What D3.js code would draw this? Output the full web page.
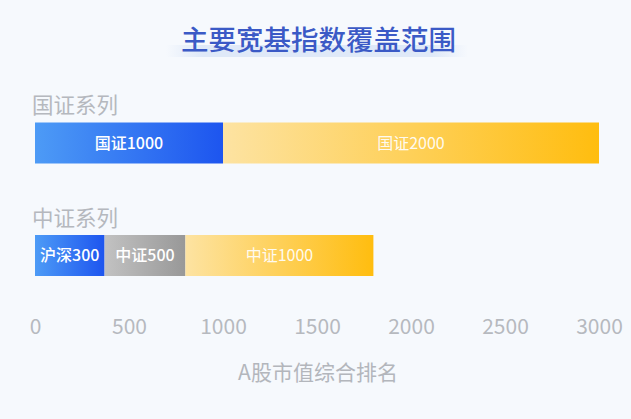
<!DOCTYPE html>
<html>
<head>
<meta charset="utf-8">
<script src="https://cdn.jsdelivr.net/npm/d3@7"></script>
<style>
  html, body { margin: 0; padding: 0; background: #f6f9fd; }
  svg { display: block; font-family: "Noto Sans CJK SC", "Noto Sans", sans-serif; }
</style>
</head>
<body>
<script>
// data
var title = "主要宽基指数覆盖范围";
var axisTitle = "A股市值综合排名";
var seriesNames = ["国证系列", "中证系列"];
var guozhengNames = ["国证1000", "国证2000"];
var guozhengEnds = [1000, 3000];
var zhongzhengNames = ["沪深300", "中证500", "中证1000"];
var zhongzhengEnds = [370, 800, 1800];
var tickValues = [0, 500, 1000, 1500, 2000, 2500, 3000];

var width = 631, height = 419;

var rows = [
    { name: seriesNames[0], names: guozhengNames, ends: guozhengEnds },
    { name: seriesNames[1], names: zhongzhengNames, ends: zhongzhengEnds }
];

// which gradient each segment gets
var kind = {
    "国证1000": "blue", "国证2000": "yellow",
    "沪深300": "blue", "中证500": "gray", "中证1000": "yellow"
};
var gradStops = {
    blue: ["#4d9bf6", "#1d55ef"],
    gray: ["#c2c2c2", "#989898"],
    yellow: ["#fde3a2", "#ffbd0f"]
};

var svg = d3.select('body').append('svg')
    .attr('width', width)
    .attr('height', height);

var defs = svg.append('defs');
Object.keys(gradStops).forEach(function (k) {
    var g = defs.append('linearGradient').attr('id', 'g-' + k)
        .attr('x1', '0%').attr('x2', '100%').attr('y1', '0%').attr('y2', '0%');
    g.append('stop').attr('offset', '0%').attr('stop-color', gradStops[k][0]);
    g.append('stop').attr('offset', '100%').attr('stop-color', gradStops[k][1]);
});
var hl = defs.append('linearGradient').attr('id', 'g-hl')
    .attr('x1', '0%').attr('x2', '100%');
hl.append('stop').attr('offset', '0%').attr('stop-color', '#dfe9f8').attr('stop-opacity', 0);
hl.append('stop').attr('offset', '12%').attr('stop-color', '#dfe9f8').attr('stop-opacity', 1);
hl.append('stop').attr('offset', '88%').attr('stop-color', '#dfe9f8').attr('stop-opacity', 1);
hl.append('stop').attr('offset', '100%').attr('stop-color', '#dfe9f8').attr('stop-opacity', 0);

// title with soft highlight under it
svg.append('rect')
    .attr('x', 166).attr('y', 45)
    .attr('width', 302).attr('height', 12)
    .attr('fill', 'url(#g-hl)');
svg.append('text')
    .attr('x', 318.5).attr('y', 50)
    .attr('text-anchor', 'middle')
    .attr('font-size', 27.5)
    .attr('font-weight', 500)
    .attr('fill', '#3b5ac6')
    .text(title);

var x = d3.scaleLinear().domain([0, 3000]).range([35, 599]);
var y = d3.scaleBand().domain(seriesNames).range([80, 305]);
var barH = 41;

var row = svg.selectAll('g.row')
    .data(rows)
    .enter().append('g')
    .attr('class', 'row')
    .attr('transform', function (d) { return 'translate(0,' + y(d.name) + ')'; });

row.append('text')
    .attr('x', 32)
    .attr('y', 33)
    .attr('font-size', 21.5)
    .attr('fill', '#b5b8be')
    .text(function (d) { return d.name; });

var seg = row.selectAll('g.seg')
    .data(function (d) {
        return d.names.map(function (n, i) {
            return { name: n, start: i ? d.ends[i - 1] : 0, end: d.ends[i] };
        });
    })
    .enter().append('g')
    .attr('class', 'seg');

seg.append('rect')
    .attr('x', function (d) { return x(d.start); })
    .attr('y', 42.5)
    .attr('width', function (d) { return x(d.end) - x(d.start); })
    .attr('height', barH)
    .attr('fill', function (d) { return 'url(#g-' + kind[d.name] + ')'; });

seg.append('text')
    .attr('x', function (d) { return (x(d.start) + x(d.end)) / 2; })
    .attr('y', 42.5 + barH / 2)
    .attr('dy', '0.36em')
    .attr('text-anchor', 'middle')
    .attr('font-size', 16)
    .attr('font-weight', function (d) { return kind[d.name] === 'yellow' ? 400 : 500; })
    .attr('fill', '#fff')
    .attr('fill-opacity', function (d) { return kind[d.name] === 'yellow' ? 0.92 : 1; })
    .text(function (d) { return d.name; });

// bottom axis, labels only
var axis = svg.append('g')
    .attr('transform', 'translate(0,318)')
    .call(d3.axisBottom(x).tickValues(tickValues).tickSize(0).tickPadding(0).tickFormat(d3.format('d')));
axis.select('.domain').remove();
axis.selectAll('text')
    .attr('font-family', '"Noto Sans CJK SC", "Noto Sans", sans-serif')
    .attr('font-size', 21)
    .attr('fill', '#b6b9bf')
    .attr('dy', '0.76em');

svg.append('text')
    .attr('x', 318)
    .attr('y', 380)
    .attr('text-anchor', 'middle')
    .attr('font-size', 21)
    .attr('fill', '#b3b6bc')
    .text(axisTitle);
</script>
</body>
</html>
